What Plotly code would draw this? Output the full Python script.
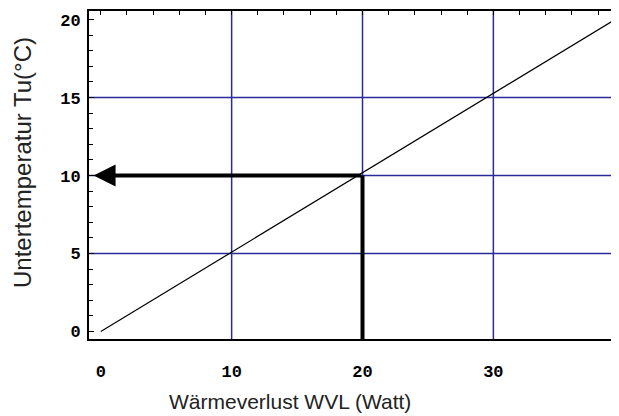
import plotly.graph_objects as go

# Data
wvl = [0, 39.1]            # Wärmeverlust (Watt)
tu = [0, 19.9]             # Untertemperatur (°C)
x_ticks = [0, 10, 20, 30]
y_ticks = [0, 5, 10, 15, 20]
op_wvl = 20                # operating point
op_tu = 10
arrow_end_x = -0.55
x_title = "Wärmeverlust WVL (Watt)"
y_title = "Untertemperatur Tu(°C)"

x_range = [-0.9, 39.6]
y_range = [-0.48, 20.55]

grid_color = "#2a2a9a"
font_mono = "Liberation Mono, DejaVu Sans Mono, monospace"
font_sans = "Liberation Sans, Arial, sans-serif"

# page body has an 8px margin; compensate so plot area lands at 89..619 x 11..339
PAGE_OFF = 8
FIG_H = 416 - PAGE_OFF

fig = go.Figure()

fig.add_trace(go.Scatter(x=wvl, y=tu, mode="lines",
                         line=dict(color="black", width=1.2),
                         showlegend=False, hoverinfo="skip"))

# vertical thick line from (20,0) to (20,10)
fig.add_trace(go.Scatter(x=[op_wvl, op_wvl], y=[y_range[0], op_tu], mode="lines",
                         line=dict(color="black", width=4),
                         showlegend=False, hoverinfo="skip"))

# horizontal arrow to y-axis
fig.add_annotation(x=arrow_end_x, y=op_tu, ax=op_wvl, ay=op_tu,
                   xref="x", yref="y", axref="x", ayref="y",
                   showarrow=True, arrowhead=2, arrowsize=1.1, arrowwidth=4,
                   arrowcolor="black", text="", standoff=0)

# invisible trace for top axis
fig.add_trace(go.Scatter(x=x_range, y=[None, None], xaxis="x2", mode="lines",
                         showlegend=False, hoverinfo="skip"))

fig.update_layout(
    width=619 - PAGE_OFF, height=FIG_H,
    margin=dict(l=89 - PAGE_OFF, r=0, t=11 - PAGE_OFF,
                b=FIG_H - (339 - PAGE_OFF), autoexpand=False),
    paper_bgcolor="white", plot_bgcolor="white",
    xaxis=dict(range=x_range, tickvals=x_ticks, ticktext=[str(v) for v in x_ticks],
               showgrid=False, zeroline=False, showline=True, linecolor="black",
               linewidth=2, ticks="", ticklabelstandoff=16, automargin=False,
               tickfont=dict(family=font_mono, size=17, color="black", weight="bold")),
    xaxis2=dict(range=x_range, overlaying="x", side="top", showline=True,
                linecolor="black", linewidth=2, ticks="inside", dtick=2, tick0=0,
                ticklen=4, tickcolor="black", showticklabels=False, automargin=False,
                showgrid=False, zeroline=False),
    yaxis=dict(range=y_range, tickvals=y_ticks, ticktext=[str(v) for v in y_ticks],
               showgrid=False, zeroline=False, showline=True, linecolor="black",
               linewidth=2, ticks="inside", ticklen=5, tickcolor="black",
               minor=dict(dtick=1, tick0=0, ticks="inside", ticklen=4, tickcolor="black"),
               ticklabelstandoff=3, automargin=False,
               tickfont=dict(family=font_mono, size=17, color="black", weight="bold")),
)

# axis titles placed as in the reference
fig.add_annotation(text=x_title, xref="paper", yref="paper",
                   x=(290 - 89) / 530, y=-(401 - 339) / 328,
                   xanchor="center", yanchor="middle", showarrow=False,
                   font=dict(family=font_sans, size=21, color="#222"))
fig.add_annotation(text=y_title, xref="paper", yref="paper", textangle=-90,
                   x=-(89 - 22) / 530, y=(339 - 163) / 328,
                   xanchor="center", yanchor="middle", showarrow=False,
                   font=dict(family=font_sans, size=24, color="#222"))

# grid lines drawn from tick values via the axes
for xv in x_ticks[1:]:
    fig.add_shape(type="line", xref="x", yref="paper", x0=xv, x1=xv, y0=0, y1=1,
                  line=dict(color=grid_color, width=1.5), layer="below")
for yv in y_ticks[1:-1]:
    fig.add_shape(type="line", xref="paper", yref="y", x0=0, x1=1, y0=yv, y1=yv,
                  line=dict(color=grid_color, width=1.5), layer="below")

fig.write_html("out.html")
